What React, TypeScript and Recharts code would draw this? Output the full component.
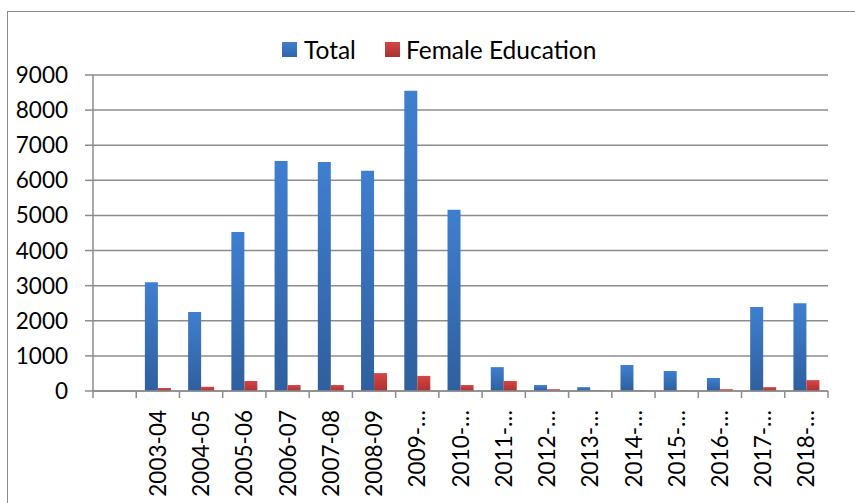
import { Bar, BarChart, CartesianGrid, Legend, XAxis, YAxis } from "recharts"

const years = [
  "", "2003-04", "2004-05", "2005-06", "2006-07", "2007-08", "2008-09", "2009-…",
  "2010-…", "2011-…", "2012-…", "2013-…", "2014-…", "2015-…", "2016-…", "2017-…", "2018-…",
]
const total = [null, 3100, 2250, 4530, 6550, 6520, 6270, 8550, 5160, 680, 170, 110, 740, 570, 370, 2390, 2500]
const femaleEducation = [null, 85, 120, 285, 170, 170, 510, 430, 170, 285, 50, 20, 20, 5, 50, 110, 310]
const yTicks = [0, 1000, 2000, 3000, 4000, 5000, 6000, 7000, 8000, 9000]

const data = years.map((name, i) => ({ name, total: total[i], female: femaleEducation[i] }))

const W = 855
const H = 503
const PLOT_LEFT = 93
const PLOT_RIGHT = 828
const PLOT_TOP = 75
const PLOT_BOTTOM = 391
const BAND = (PLOT_RIGHT - PLOT_LEFT) / years.length
const GRID = "#8c8c8c"
const FONT = "Lato, 'Open Sans', sans-serif"

const XTick = (props: any) => {
  const { x, payload, index } = props
  const half = BAND / 2
  return (
    <g>
      <line x1={x - half} x2={x - half} y1={PLOT_BOTTOM} y2={PLOT_BOTTOM + 7} stroke={GRID} strokeWidth={1.5} />
      {index === years.length - 1 && (
        <line x1={x + half} x2={x + half} y1={PLOT_BOTTOM} y2={PLOT_BOTTOM + 7} stroke={GRID} strokeWidth={1.5} />
      )}
      <text
        x={x}
        y={PLOT_BOTTOM + 19}
        transform={`rotate(-90, ${x}, ${PLOT_BOTTOM + 19})`}
        textAnchor="end"
        dy="0.36em"
        fontSize={22.5}
        fontFamily={FONT}
        fill="#000"
      >
        {payload.value}
      </text>
    </g>
  )
}

const LegendContent = () => (
  <div style={{ display: "flex", alignItems: "center", fontFamily: FONT, fontSize: 24.5, color: "#000" }}>
    <span style={{ width: 15, height: 15, background: "linear-gradient(#3f7fcf, #2f65a8)", marginRight: 7 }} />
    <span style={{ marginRight: 29 }}>Total</span>
    <span style={{ width: 15, height: 15, background: "linear-gradient(#d64444, #a83333)", marginRight: 6 }} />
    <span>Female Education</span>
  </div>
)

export default function App() {
  return (
    <div style={{ position: "fixed", left: 0, top: 0, width: W, height: H, overflow: "hidden", background: "#fff" }}>
      <div
        style={{
          position: "absolute",
          left: 7,
          top: 11,
          width: 1000,
          height: 1000,
          border: `1.5px solid ${GRID}`,
        }}
      />
      <div style={{ position: "absolute", left: 0, top: 0 }}>
        <BarChart
          width={W}
          height={H}
          data={data}
          margin={{ top: PLOT_TOP, right: W - PLOT_RIGHT, bottom: 0, left: 0 }}
          barCategoryGap="20%"
          barGap={0}
        >
          <defs>
            <linearGradient id="gBlue" x1="0" y1="0" x2="0" y2="1">
              <stop offset="0%" stopColor="#3f7fd0" />
              <stop offset="100%" stopColor="#2f5f9e" />
            </linearGradient>
            <linearGradient id="gRed" x1="0" y1="0" x2="0" y2="1">
              <stop offset="0%" stopColor="#d84545" />
              <stop offset="100%" stopColor="#a93232" />
            </linearGradient>
          </defs>
          <CartesianGrid vertical={false} stroke={GRID} strokeWidth={1.5} strokeDasharray="" />
          <XAxis
            dataKey="name"
            interval={0}
            height={H - PLOT_BOTTOM}
            tickLine={false}
            axisLine={{ stroke: GRID, strokeWidth: 1.5 }}
            tick={<XTick />}
          />
          <YAxis
            domain={[0, 9000]}
            ticks={yTicks}
            width={PLOT_LEFT}
            tickSize={8}
            tickMargin={17}
            tickLine={{ stroke: GRID, strokeWidth: 1.5 }}
            axisLine={{ stroke: GRID, strokeWidth: 1.5 }}
            tick={{ fontSize: 22.5, fontFamily: FONT, fill: "#000" }}
          />
          <Legend
            layout="horizontal"
            verticalAlign="middle"
            align="center"
            content={<LegendContent />}
            wrapperStyle={{ top: 35, left: 282, width: "auto" }}
          />
          <Bar dataKey="total" name="Total" fill="url(#gBlue)" isAnimationActive={false} />
          <Bar dataKey="female" name="Female Education" fill="url(#gRed)" isAnimationActive={false} />
        </BarChart>
      </div>
    </div>
  )
}
